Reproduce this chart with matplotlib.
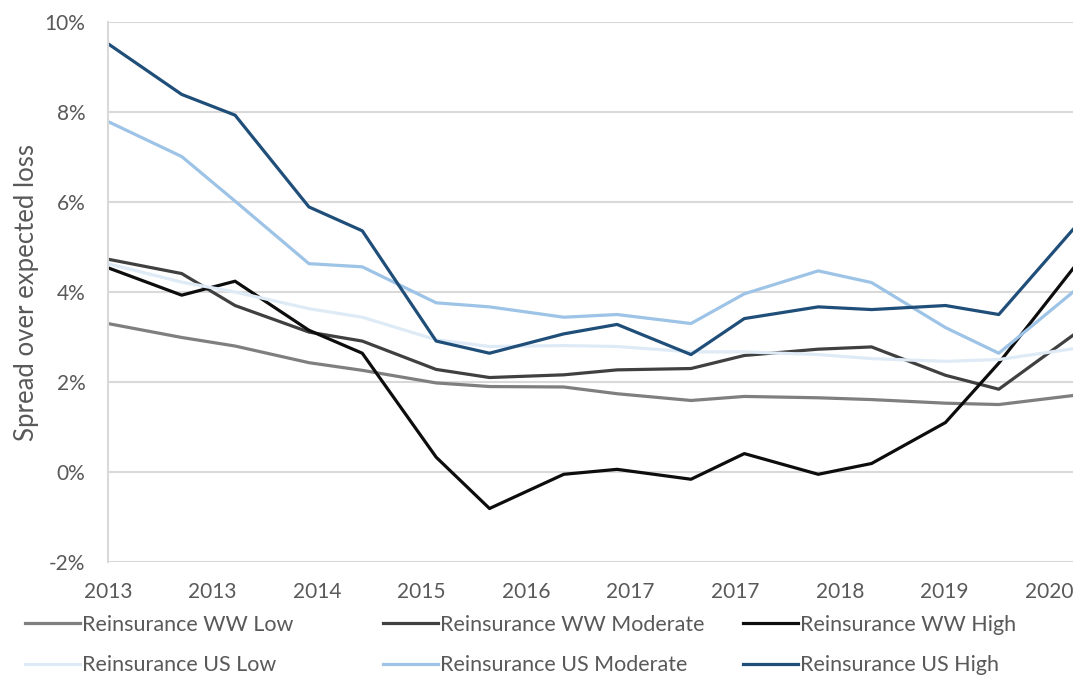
import datetime as dt
import matplotlib
matplotlib.use("Agg")
import matplotlib.pyplot as plt
import matplotlib.dates as mdates
from matplotlib.ticker import FuncFormatter

plt.rcParams['font.family'] = ['Lato', 'DejaVu Sans']

# observation dates (two per year)
dates = ["2013-01", "2013-08", "2014-01", "2014-08", "2015-01", "2015-08",
         "2016-01", "2016-08", "2017-01", "2017-08", "2018-01", "2018-08",
         "2019-01", "2019-08", "2020-01", "2020-08"]

ww_low = [3.30, 2.99, 2.80, 2.43, 2.26, 1.98, 1.90, 1.89,
          1.74, 1.59, 1.68, 1.65, 1.61, 1.53, 1.50, 1.70]
ww_mod = [4.73, 4.41, 3.70, 3.11, 2.91, 2.28, 2.10, 2.16,
          2.27, 2.30, 2.59, 2.73, 2.78, 2.15, 1.84, 3.04]
ww_high = [4.54, 3.93, 4.24, 3.15, 2.64, 0.33, -0.81, -0.05,
           0.06, -0.16, 0.41, -0.05, 0.19, 1.10, 2.42, 4.52]
us_low = [4.63, 4.22, 4.00, 3.63, 3.44, 2.94, 2.79, 2.81,
          2.79, 2.67, 2.67, 2.61, 2.52, 2.46, 2.50, 2.74]
us_mod = [7.79, 7.01, 6.02, 4.63, 4.56, 3.76, 3.67, 3.44,
          3.50, 3.30, 3.96, 4.47, 4.21, 3.21, 2.64, 4.00]
us_high = [9.52, 8.39, 7.93, 5.89, 5.36, 2.91, 2.64, 3.07,
           3.28, 2.61, 3.41, 3.67, 3.61, 3.70, 3.50, 5.39]

names = ["Reinsurance WW Low", "Reinsurance WW Moderate", "Reinsurance WW High",
         "Reinsurance US Low", "Reinsurance US Moderate", "Reinsurance US High"]
colors = ["#7f7f7f", "#404040", "#0d0d0d", "#deebf7", "#9dc3e6", "#1f4e79"]

# axis label dates (Excel date axis, ~300 day steps)
tick_dates = ["2013-01-01", "2013-10-28", "2014-08-24", "2015-06-20", "2016-04-15",
              "2017-02-09", "2017-12-06", "2018-10-02", "2019-07-29", "2020-05-24"]

x = [dt.datetime.strptime(d, "%Y-%m") for d in dates]
ticks = [dt.datetime.strptime(d, "%Y-%m-%d") for d in tick_dates]

fig = plt.figure(figsize=(10.78, 6.78), dpi=100)
ax = fig.add_axes([0.1, 0.171, 0.8954, 0.7966])

series = [ww_low, ww_mod, ww_high, us_low, us_mod, us_high]
lines = []
for s, c, n in zip(series, colors, names):
    ln, = ax.plot(x, s, color=c, lw=2.3, label=n)
    lines.append(ln)

ax.set_xlim(x[0], x[-1])
ax.set_ylim(-2, 10)
ax.set_yticks(range(-2, 11, 2))
ax.yaxis.set_major_formatter(FuncFormatter(lambda v, p: "%d%%" % v))
ax.set_xticks(ticks)
ax.xaxis.set_major_formatter(mdates.DateFormatter("%Y"))

ax.grid(axis="y", color="#d9d9d9", lw=1.5)
ax.set_axisbelow(True)
for sp in ["top", "right", "bottom"]:
    ax.spines[sp].set_visible(False)
ax.spines["left"].set_color("#d9d9d9")
ax.spines["left"].set_linewidth(1.5)
ax.tick_params(length=0, labelsize=15, labelcolor="#595959")
ax.tick_params(axis="y", pad=16)
ax.tick_params(axis="x", pad=14)
ax.set_ylabel("Spread over expected loss", fontsize=18.5, color="#595959", labelpad=4)

# legend: three columns, two rows, like the Excel layout
col_x = [25, 383, 743]
for j in range(3):
    leg = fig.legend([lines[j], lines[j + 3]], [names[j], names[j + 3]],
                     loc="upper left", bbox_to_anchor=(col_x[j] / 1078, 0.093),
                     frameon=False, fontsize=15.5, labelcolor="#595959",
                     handlelength=2.55, handletextpad=0.1, labelspacing=0.95,
                     borderpad=0, borderaxespad=0)

fig.savefig("out.png", dpi=100)
